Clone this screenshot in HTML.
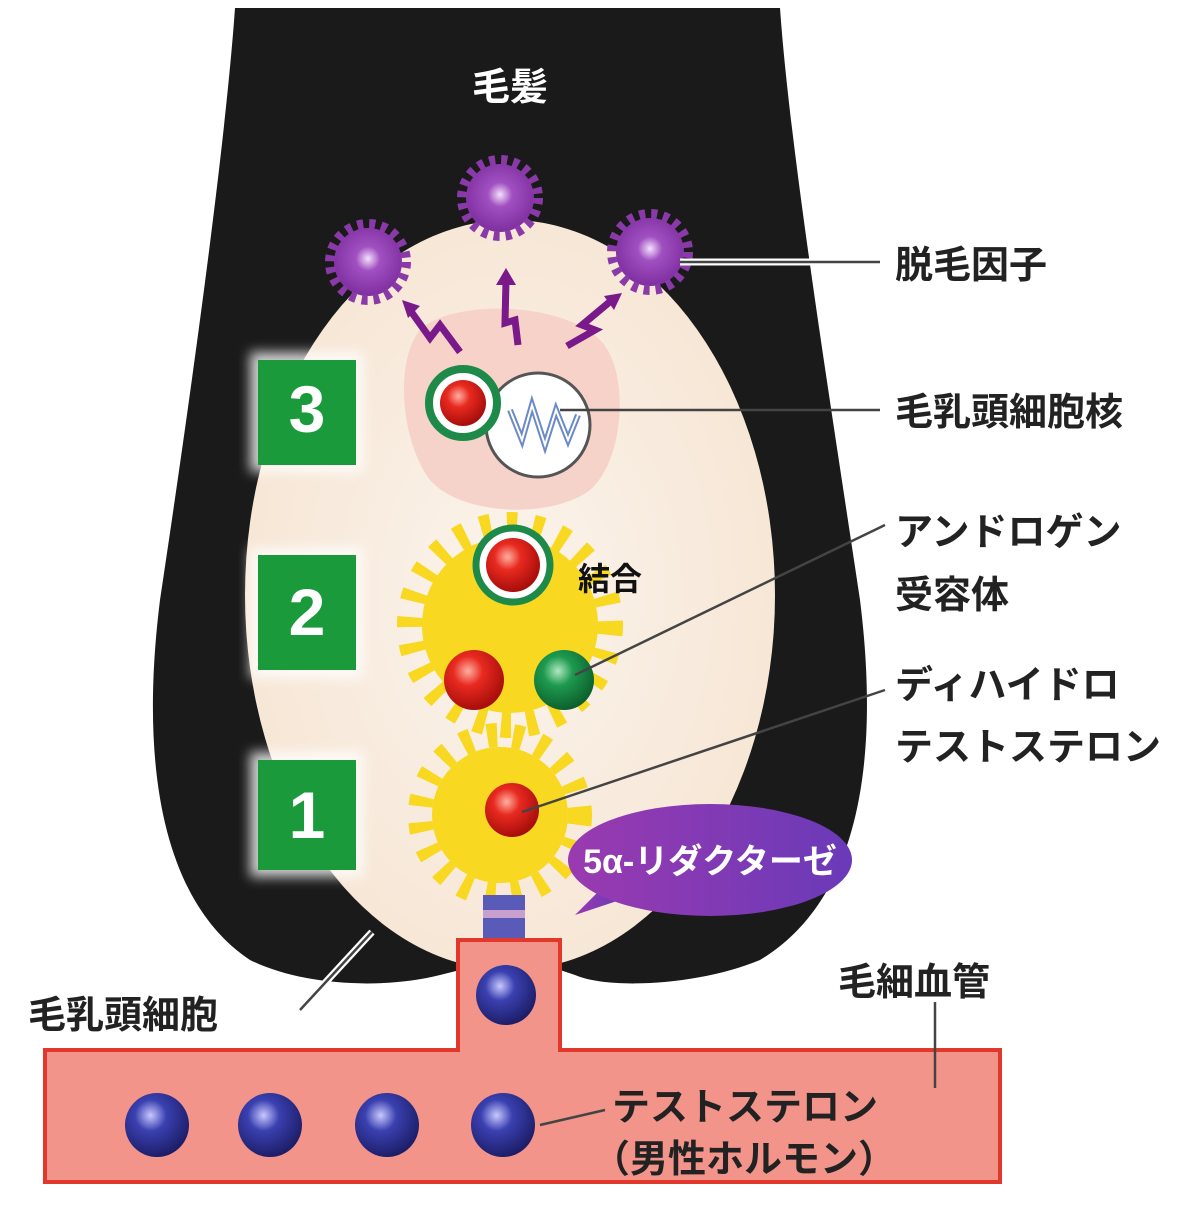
<!DOCTYPE html>
<html><head><meta charset="utf-8"><style>
html,body{margin:0;padding:0;background:#fff}
svg{display:block}
text{font-family:"Liberation Sans","Noto Sans CJK JP",sans-serif;font-weight:bold}
</style></head><body>
<svg width="1200" height="1205" viewBox="0 0 1200 1205" xmlns="http://www.w3.org/2000/svg">
<defs>
<radialGradient id="red" cx="0.4" cy="0.35" r="0.7"><stop offset="0" stop-color="#ffb0a0"/><stop offset="0.35" stop-color="#e82a20"/><stop offset="1" stop-color="#a00a08"/></radialGradient>
<radialGradient id="grn" cx="0.4" cy="0.35" r="0.7"><stop offset="0" stop-color="#b0e8c0"/><stop offset="0.35" stop-color="#1e9a50"/><stop offset="1" stop-color="#0a5a28"/></radialGradient>
<radialGradient id="blu" cx="0.4" cy="0.35" r="0.7"><stop offset="0" stop-color="#c8c8ff"/><stop offset="0.35" stop-color="#3a40b0"/><stop offset="1" stop-color="#1a1a60"/></radialGradient>
<radialGradient id="pur" cx="0.5" cy="0.45" r="0.6"><stop offset="0" stop-color="#f4e0ff"/><stop offset="0.3" stop-color="#a050c0"/><stop offset="1" stop-color="#7a2a9a"/></radialGradient>
<linearGradient id="ell" x1="0" y1="0" x2="1" y2="0"><stop offset="0" stop-color="#9a3ab0"/><stop offset="1" stop-color="#6a3ab8"/></linearGradient>
<radialGradient id="egg" cx="0.5" cy="0.5" r="0.6"><stop offset="0" stop-color="#fbf4ec"/><stop offset="1" stop-color="#f6e4d2"/></radialGradient>
<filter id="glow"><feGaussianBlur stdDeviation="6"/></filter>
</defs>
<!-- hair -->
<path d="M235,8 L780,8 C790,150 830,400 860,600 C880,760 860,900 760,960 C700,985 610,990 575,975 L560,970 L460,970 L440,975 C380,990 300,985 250,960 C160,900 140,760 160,600 C190,400 225,150 235,8 Z" fill="#1a1a1a"/>
<!-- egg -->
<ellipse cx="510" cy="595" rx="265" ry="375" fill="url(#egg)"/>
<!-- pink nucleus zone -->
<path d="M420,330 C450,300 560,300 600,340 C630,370 625,460 590,490 C550,520 460,515 430,480 C400,440 395,360 420,330 Z" fill="#f5cfc6" opacity="0.9"/>
<!-- purple factors -->
<g>
<circle cx="368" cy="262" r="34" fill="url(#pur)"/><circle cx="368" cy="262" r="38" fill="none" stroke="#8a3aa8" stroke-width="10" stroke-dasharray="6 6"/>
<circle cx="500" cy="198" r="34" fill="url(#pur)"/><circle cx="500" cy="198" r="38" fill="none" stroke="#8a3aa8" stroke-width="10" stroke-dasharray="6 6"/>
<circle cx="650" cy="252" r="34" fill="url(#pur)"/><circle cx="650" cy="252" r="38" fill="none" stroke="#8a3aa8" stroke-width="10" stroke-dasharray="6 6"/>
</g>
<!-- lightning arrows -->
<g fill="none" stroke="#7a1a8a" stroke-width="7" stroke-linejoin="miter">
<polyline points="460,352 440,325 430,338 410,310"/>
<polyline points="518,345 515,320 505,323 506,280"/>
<polyline points="567,346 595,330 582,325 612,300"/>
</g>
<g fill="#7a1a8a">
<polygon points="402,300 420,306 408,318"/>
<polygon points="506,268 496,285 516,285"/>
<polygon points="622,293 604,296 614,310"/>
</g>
<!-- nucleus -->
<circle cx="538" cy="425" r="52" fill="#fff" stroke="#555" stroke-width="3"/>
<polyline points="510,410 522,440 532,405 545,445 556,410 568,440 578,415" fill="none" stroke="#6a8ac8" stroke-width="6"/>
<polyline points="510,410 522,440 532,405 545,445 556,410 568,440 578,415" fill="none" stroke="#fff" stroke-width="2"/>
<circle cx="463" cy="403" r="34" fill="#fff" stroke="#1e8a4a" stroke-width="8"/>
<circle cx="463" cy="403" r="23" fill="url(#red)"/>
<!-- yellow burst 2 -->
<circle cx="510" cy="625" r="88" fill="#f8d820"/>
<circle cx="510" cy="625" r="100" fill="none" stroke="#f8d820" stroke-width="26" stroke-dasharray="10 16"/>
<circle cx="513" cy="565" r="37" fill="#fff" stroke="#1e8a4a" stroke-width="7"/>
<circle cx="513" cy="565" r="27" fill="url(#red)"/>
<circle cx="474" cy="680" r="30" fill="url(#red)"/>
<circle cx="564" cy="680" r="30" fill="url(#grn)"/>
<!-- yellow burst 1 -->
<circle cx="500" cy="815" r="68" fill="#f8d820"/>
<circle cx="500" cy="815" r="80" fill="none" stroke="#f8d820" stroke-width="24" stroke-dasharray="10 16"/>
<circle cx="512" cy="810" r="27" fill="url(#red)"/>
<!-- stem -->
<rect x="483" y="895" width="42" height="45" fill="#5a5ab8"/>
<rect x="483" y="910" width="42" height="8" fill="#c8a0d0"/>
<!-- 5a -->
<path d="M620,900 L575,915 L610,880 Z" fill="url(#ell)"/>
<ellipse cx="710" cy="860" rx="142" ry="56" fill="url(#ell)"/>
<text x="710" y="873" font-size="34" fill="#fff" text-anchor="middle">5α-リダクターゼ</text>
<!-- green boxes -->
<g filter="url(#glow)" opacity="0.8"><rect x="250" y="352" width="113" height="120" fill="#fff"/><rect x="250" y="548" width="113" height="130" fill="#fff"/><rect x="250" y="752" width="113" height="125" fill="#fff"/></g>
<rect x="258" y="360" width="98" height="105" fill="#1a9a3a"/>
<rect x="258" y="555" width="98" height="115" fill="#1a9a3a"/>
<rect x="258" y="760" width="98" height="110" fill="#1a9a3a"/>
<text x="307" y="432" font-size="66" fill="#fff" text-anchor="middle" font-weight="normal">3</text>
<text x="307" y="635" font-size="66" fill="#fff" text-anchor="middle" font-weight="normal">2</text>
<text x="307" y="838" font-size="66" fill="#fff" text-anchor="middle" font-weight="normal">1</text>
<!-- capillary -->
<path d="M45,1050 L458,1050 L458,940 L560,940 L560,1050 L1000,1050 L1000,1182 L45,1182 Z" fill="#f2948a" stroke="#e0382a" stroke-width="4"/>
<rect x="465" y="945" width="88" height="110" fill="#f2948a"/>
<g>
<circle cx="506" cy="995" r="30" fill="url(#blu)"/>
<circle cx="157" cy="1125" r="32" fill="url(#blu)"/>
<circle cx="270" cy="1125" r="32" fill="url(#blu)"/>
<circle cx="387" cy="1125" r="32" fill="url(#blu)"/>
<circle cx="503" cy="1125" r="32" fill="url(#blu)"/>
</g>
<!-- leader lines -->
<g stroke="#fff" stroke-width="7" fill="none">
<line x1="680" y1="262" x2="880" y2="262"/><line x1="300" y1="1010" x2="372" y2="932"/>
</g>
<g stroke="#444" stroke-width="2.5" fill="none">
<line x1="680" y1="262" x2="880" y2="262"/>
<line x1="560" y1="410" x2="880" y2="410"/>
<line x1="575" y1="675" x2="885" y2="525"/>
<line x1="522" y1="812" x2="885" y2="690"/>
<line x1="300" y1="1010" x2="372" y2="932"/>
<line x1="935" y1="1002" x2="935" y2="1088"/>
<line x1="540" y1="1125" x2="605" y2="1110"/>
</g>
<!-- labels -->
<text x="510" y="100" font-size="38" fill="#fff" text-anchor="middle">毛髪</text>
<text x="578" y="590" font-size="32" fill="#111">結合</text>
<g font-size="38" fill="#222">
<text x="895" y="278">脱毛因子</text>
<text x="895" y="425">毛乳頭細胞核</text>
<text x="895" y="545">アンドロゲン</text>
<text x="895" y="608">受容体</text>
<text x="895" y="698">ディハイドロ</text>
<text x="895" y="760">テストステロン</text>
<text x="838" y="995">毛細血管</text>
<text x="28" y="1028">毛乳頭細胞</text>
<text x="612" y="1120">テストステロン</text>
<text x="592" y="1172">（男性ホルモン）</text>
</g>
</svg>
</body></html>
